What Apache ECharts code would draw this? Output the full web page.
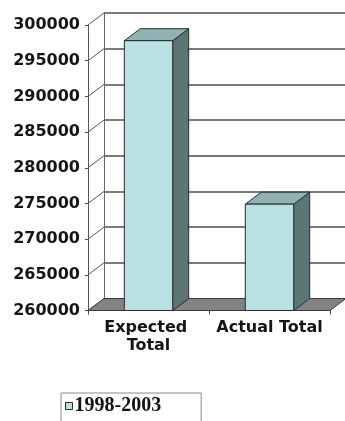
<!DOCTYPE html>
<html>
<head>
<meta charset="utf-8">
<style>
  html, body { margin: 0; padding: 0; background: #ffffff; }
  #chart { width: 345px; height: 421px; }
</style>
<script src="https://cdn.jsdelivr.net/npm/echarts@6/dist/echarts.min.js"></script>
</head>
<body>
<div id="chart"></div>
<script>
// Totals for the 1998-2003 period
const categories = ['Expected Total', 'Actual Total'];
const seriesName = '1998-2003';
const totals = [297800, 274900];

// Value axis range and tick step
const yMin = 260000;
const yMax = 300000;
const yStep = 5000;

// Pseudo-3D depth offset of the back wall (pixels)
const DEPTH_X = 16;
const DEPTH_Y = -12;

const chart = echarts.init(document.getElementById('chart'), null, { renderer: 'canvas' });

const labelFont = 'DejaVu Sans';

function renderWalls(params, api) {
  const cs = params.coordSys;
  const left = cs.x;
  const right = cs.x + cs.width;
  const yBase = api.coord([0, yMin])[1];
  const children = [];
  // floor
  children.push({
    type: 'polygon',
    shape: { points: [[left, yBase], [right, yBase], [right + DEPTH_X, yBase + DEPTH_Y], [left + DEPTH_X, yBase + DEPTH_Y]] },
    style: { fill: '#838383', stroke: '#3a3a3a', lineWidth: 1 }
  });
  // side wall lines joining the front axis to the back wall
  for (let v = yMin; v <= yMax; v += yStep) {
    const y = api.coord([0, v])[1];
    children.push({
      type: 'line',
      shape: { x1: left, y1: y, x2: left + DEPTH_X, y2: y + DEPTH_Y },
      style: { stroke: '#555555', lineWidth: 1 }
    });
  }
  return { type: 'group', children: children };
}

function renderBar(params, api) {
  const top = api.coord([api.value(0), api.value(1)]);
  const base = api.coord([api.value(0), yMin]);
  const w = api.size([1, 0])[0] * 0.4;
  const x0 = top[0] - w / 2;
  const x1 = top[0] + w / 2;
  const yT = top[1];
  const yB = base[1];
  const edge = { stroke: '#2b2b2b', lineWidth: 1, lineJoin: 'round' };
  return {
    type: 'group',
    children: [
      {
        type: 'polygon',
        shape: { points: [[x1, yT], [x1 + DEPTH_X, yT + DEPTH_Y], [x1 + DEPTH_X, yB + DEPTH_Y], [x1, yB]] },
        style: Object.assign({ fill: '#5c7676' }, edge)
      },
      {
        type: 'polygon',
        shape: { points: [[x0, yT], [x0 + DEPTH_X, yT + DEPTH_Y], [x1 + DEPTH_X, yT + DEPTH_Y], [x1, yT]] },
        style: Object.assign({ fill: '#90b2b2' }, edge)
      },
      {
        type: 'rect',
        shape: { x: x0, y: yT, width: w, height: yB - yT },
        style: Object.assign({ fill: '#b9e1e4' }, edge)
      }
    ]
  };
}

const option = {
  backgroundColor: '#ffffff',
  animation: false,
  grid: [
    // front plane
    { left: 88, top: 25, width: 242, height: 285.5 },
    // back wall
    { left: 88 + DEPTH_X, top: 25 + DEPTH_Y, width: 242, height: 285.5 }
  ],
  legend: {
    data: [{
      name: seriesName,
      icon: 'rect',
      itemStyle: { color: '#b9e1e4', borderColor: '#2b2b2b', borderWidth: 1 }
    }],
    left: 61,
    top: 393,
    orient: 'horizontal',
    itemWidth: 7,
    itemHeight: 7,
    padding: [3, 40, 12, 4],
    borderColor: '#8a8a8a',
    borderWidth: 1,
    selectedMode: false,
    textStyle: {
      fontFamily: 'Liberation Serif',
      fontWeight: 'bold',
      fontSize: 20,
      color: '#111111',
      lineHeight: 20,
      padding: [0, 0, 0, -3]
    }
  },
  xAxis: [
    {
      gridIndex: 0,
      type: 'category',
      data: categories,
      axisLine: { show: true, lineStyle: { color: '#2b2b2b', width: 1 } },
      axisTick: { show: true, length: 4, lineStyle: { color: '#444' } },
      axisLabel: {
        fontFamily: labelFont,
        fontWeight: 'bold',
        fontSize: 16,
        color: '#151515',
        lineHeight: 18,
        margin: 8,
        width: 118,
        overflow: 'break',
        interval: 0
      },
      splitLine: { show: false }
    },
    {
      gridIndex: 1,
      type: 'category',
      data: categories,
      show: false
    }
  ],
  yAxis: [
    {
      gridIndex: 0,
      type: 'value',
      min: yMin,
      max: yMax,
      interval: yStep,
      axisLine: { show: true, lineStyle: { color: '#555555', width: 1 } },
      axisTick: { show: true, length: 3, lineStyle: { color: '#555' } },
      axisLabel: {
        fontFamily: labelFont,
        fontWeight: 'bold',
        fontSize: 16,
        color: '#151515',
        margin: 8,
        formatter: function (v) { return String(v); }
      },
      splitLine: { show: false }
    },
    {
      gridIndex: 1,
      type: 'value',
      min: yMin,
      max: yMax,
      interval: yStep,
      axisLine: { show: true, lineStyle: { color: '#666666', width: 1 } },
      axisTick: { show: false },
      axisLabel: { show: false },
      splitLine: { show: true, lineStyle: { color: '#7a7a7a', width: 2 } }
    }
  ],
  series: [
    {
      name: 'walls',
      type: 'custom',
      xAxisIndex: 0,
      yAxisIndex: 0,
      data: [[0, yMin]],
      renderItem: renderWalls,
      clip: false,
      silent: true,
      z: 1
    },
    {
      name: seriesName,
      type: 'custom',
      xAxisIndex: 0,
      yAxisIndex: 0,
      data: totals.map(function (v, i) { return [i, v]; }),
      renderItem: renderBar,
      clip: false,
      itemStyle: { color: '#b9e1e4' },
      z: 3
    }
  ]
};

chart.setOption(option);
</script>
</body>
</html>
